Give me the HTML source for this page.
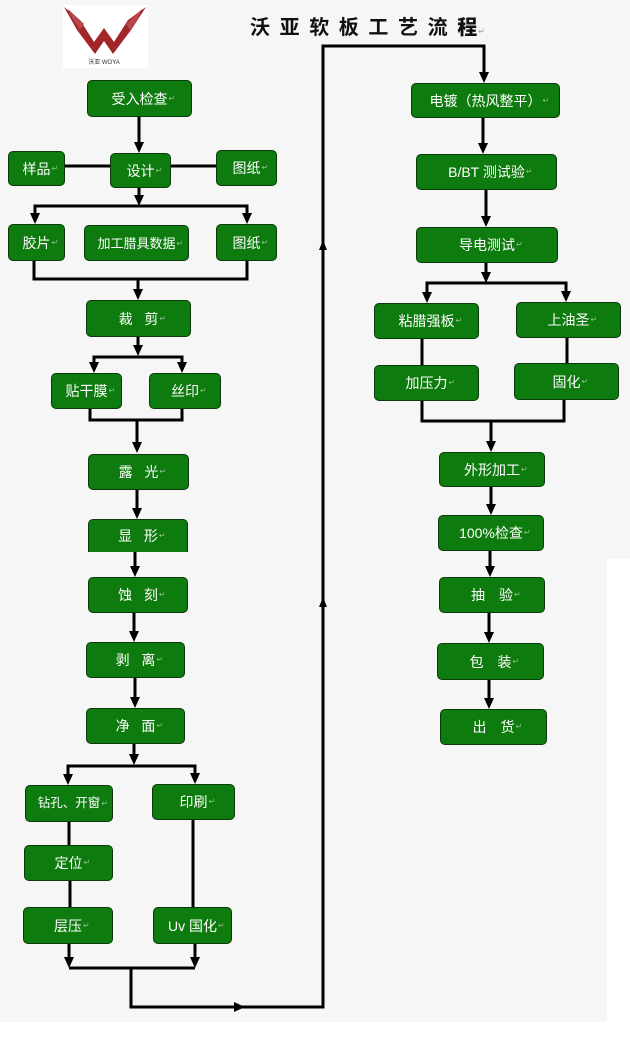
<!DOCTYPE html>
<html><head><meta charset="utf-8">
<style>
html,body{margin:0;padding:0;}
body{width:630px;height:1040px;position:relative;background:#fff;overflow:hidden;font-family:"Liberation Sans","Noto Sans CJK SC",sans-serif;}
.bg1{position:absolute;left:0;top:0;width:607px;height:1022px;background:#f6f6f6;}
.bg2{position:absolute;left:607px;top:0;width:23px;height:559px;background:#f6f6f6;}
.b{position:absolute;box-sizing:border-box;background:#0e7b0e;border:1px solid #0a3a0a;border-radius:5px;color:#fff;font-size:14px;display:flex;align-items:center;justify-content:center;white-space:nowrap;z-index:1;}
.b span{position:relative;line-height:1;}
.b span::after{content:"\21B5";position:absolute;left:100%;top:3px;margin-left:1px;font-family:"DejaVu Sans",sans-serif;font-size:8px;color:#8fbf8f;}
svg{position:absolute;left:0;top:0;z-index:2;}
.title{position:absolute;left:250px;top:11px;font-size:20px;font-weight:bold;letter-spacing:9.6px;color:#111;font-family:"Liberation Sans","Noto Sans CJK SC",sans-serif;white-space:nowrap;z-index:3;}
.title b{letter-spacing:0;}
.title i{font-style:normal;font-weight:normal;font-size:8px;letter-spacing:0;color:#999;font-family:"DejaVu Sans",sans-serif;margin-left:1px;}
</style></head>
<body>
<div class="bg1"></div><div class="bg2"></div>

<div class="title">沃亚软板工艺流<b>程</b><i>↵</i></div>

<!-- left column -->
<div class="b" style="left:87px;top:80px;width:105px;height:37px;"><span>受入检查</span></div>
<div class="b" style="left:8px;top:151px;width:57px;height:35px;"><span>样品</span></div>
<div class="b" style="left:110px;top:153px;width:61px;height:35px;"><span>设计</span></div>
<div class="b" style="left:216px;top:150px;width:61px;height:36px;"><span>图纸</span></div>
<div class="b" style="left:8px;top:224px;width:57px;height:37px;"><span>胶片</span></div>
<div class="b" style="left:84px;top:225px;width:105px;height:36px;font-size:13px;"><span>加工腊具数据</span></div>
<div class="b" style="left:216px;top:224px;width:61px;height:37px;"><span>图纸</span></div>
<div class="b" style="left:86px;top:300px;width:105px;height:37px;"><span>裁&#160;&#160;&#160;剪</span></div>
<div class="b" style="left:51px;top:373px;width:71px;height:36px;"><span>贴干膜</span></div>
<div class="b" style="left:149px;top:373px;width:72px;height:36px;"><span>丝印</span></div>
<div class="b" style="left:88px;top:454px;width:101px;height:36px;"><span>露&#160;&#160;&#160;光</span></div>
<div class="b" style="left:88px;top:519px;width:100px;height:33px;border-bottom:none;border-radius:5px 5px 0 0;"><span>显&#160;&#160;&#160;形</span></div>
<div class="b" style="left:88px;top:577px;width:100px;height:36px;"><span>蚀&#160;&#160;&#160;刻</span></div>
<div class="b" style="left:86px;top:642px;width:99px;height:36px;"><span>剥&#160;&#160;&#160;离</span></div>
<div class="b" style="left:86px;top:708px;width:99px;height:36px;"><span>净&#160;&#160;&#160;面</span></div>
<div class="b" style="left:25px;top:785px;width:88px;height:37px;font-size:12.5px;"><span>钻孔、开窗</span></div>
<div class="b" style="left:152px;top:784px;width:83px;height:36px;"><span>印刷</span></div>
<div class="b" style="left:24px;top:845px;width:89px;height:36px;"><span>定位</span></div>
<div class="b" style="left:23px;top:907px;width:90px;height:37px;"><span>层压</span></div>
<div class="b" style="left:153px;top:907px;width:79px;height:37px;"><span>Uv 国化</span></div>

<!-- right column -->
<div class="b" style="left:411px;top:83px;width:149px;height:35px;"><span>电镀（热风整平）</span></div>
<div class="b" style="left:416px;top:154px;width:141px;height:36px;"><span>B/BT 测试验</span></div>
<div class="b" style="left:416px;top:227px;width:142px;height:36px;"><span>导电测试</span></div>
<div class="b" style="left:374px;top:303px;width:105px;height:36px;"><span>粘腊强板</span></div>
<div class="b" style="left:516px;top:302px;width:105px;height:36px;"><span>上油圣</span></div>
<div class="b" style="left:374px;top:365px;width:105px;height:36px;"><span>加压力</span></div>
<div class="b" style="left:514px;top:363px;width:105px;height:37px;"><span>固化</span></div>
<div class="b" style="left:439px;top:452px;width:106px;height:35px;"><span>外形加工</span></div>
<div class="b" style="left:438px;top:515px;width:106px;height:36px;"><span>100%检查</span></div>
<div class="b" style="left:439px;top:577px;width:106px;height:36px;"><span>抽　验</span></div>
<div class="b" style="left:437px;top:643px;width:107px;height:37px;"><span>包　装</span></div>
<div class="b" style="left:440px;top:709px;width:107px;height:36px;"><span>出　货</span></div>

<svg width="630" height="1040" viewBox="0 0 630 1040" xmlns="http://www.w3.org/2000/svg">
  <!-- logo -->
  <rect x="63" y="5" width="85" height="63" fill="#ffffff"/>
  <polygon points="64,7 80,20 94,42 104,28 114,42 128,20 146,7 131,30 113,54 104,41 95,54 77,30" fill="#a3262b"/>
  <polygon points="68,9 84,24 80,30 72,18" fill="#b8474b"/>
  <polygon points="142,9 126,24 130,30 138,18" fill="#b8474b"/>
  <text x="104" y="64" font-size="6" text-anchor="middle" fill="#333" font-family="Liberation Sans, Noto Sans CJK SC, sans-serif">沃亚 WOYA</text>

  <g stroke="#000" stroke-width="3" fill="none" stroke-linejoin="miter">
    <path d="M139 117 V144"/>
    <path d="M65 166 H110"/>
    <path d="M171 166 H216"/>
    <path d="M139 188 V197"/>
    <path d="M35 214 V206 H247 V214"/>
    <path d="M34 261 V279 H247 V261"/>
    <path d="M138 279 V291"/>
    <path d="M138 337 V347"/>
    <path d="M94 364 V357 H182 V364"/>
    <path d="M90 409 V420 H182 V409"/>
    <path d="M137 420 V444"/>
    <path d="M137 490 V510"/>
    <path d="M135 552 V568"/>
    <path d="M134 613 V633"/>
    <path d="M135 678 V699"/>
    <path d="M134 744 V756"/>
    <path d="M68 776 V766 H195 V775"/>
    <path d="M69 822 V845"/>
    <path d="M70 881 V907"/>
    <path d="M193 820 V907"/>
    <path d="M69 944 V959"/>
    <path d="M195 944 V959"/>
    <path d="M69 968 H195"/>
    <path d="M131 968 V1007 H323 V46 H484 V74"/>
    <path d="M483 118 V145"/>
    <path d="M486 190 V218"/>
    <path d="M486 263 V274"/>
    <path d="M427 294 V283 H566 V293"/>
    <path d="M422 339 V365"/>
    <path d="M567 338 V363"/>
    <path d="M422 401 V421 H564 V400"/>
    <path d="M491 421 V443"/>
    <path d="M491 487 V506"/>
    <path d="M490 551 V568"/>
    <path d="M489 613 V634"/>
    <path d="M489 680 V700"/>
  </g>
  <g fill="#000">
    <polygon points="134,142 144,142 139,153"/>
    <polygon points="134,195 144,195 139,206"/>
    <polygon points="30,213 40,213 35,224"/>
    <polygon points="242,213 252,213 247,224"/>
    <polygon points="133,289 143,289 138,300"/>
    <polygon points="133,345 143,345 138,356"/>
    <polygon points="89,362 99,362 94,373"/>
    <polygon points="177,362 187,362 182,373"/>
    <polygon points="132,442 142,442 137,453"/>
    <polygon points="132,508 142,508 137,519"/>
    <polygon points="130,566 140,566 135,577"/>
    <polygon points="129,631 139,631 134,642"/>
    <polygon points="130,697 140,697 135,708"/>
    <polygon points="129,754 139,754 134,765"/>
    <polygon points="63,774 73,774 68,785"/>
    <polygon points="190,773 200,773 195,784"/>
    <polygon points="64,957 74,957 69,968"/>
    <polygon points="190,957 200,957 195,968"/>
    <polygon points="234,1002 234,1012 245,1007"/>
    <polygon points="319,250 327,250 323,240"/>
    <polygon points="319,607 327,607 323,597"/>
    <polygon points="479,72 489,72 484,83"/>
    <polygon points="478,143 488,143 483,154"/>
    <polygon points="481,216 491,216 486,227"/>
    <polygon points="481,272 491,272 486,283"/>
    <polygon points="422,292 432,292 427,303"/>
    <polygon points="561,291 571,291 566,302"/>
    <polygon points="486,441 496,441 491,452"/>
    <polygon points="486,504 496,504 491,515"/>
    <polygon points="485,566 495,566 490,577"/>
    <polygon points="484,632 494,632 489,643"/>
    <polygon points="484,698 494,698 489,709"/>
  </g>
</svg>
</body></html>
